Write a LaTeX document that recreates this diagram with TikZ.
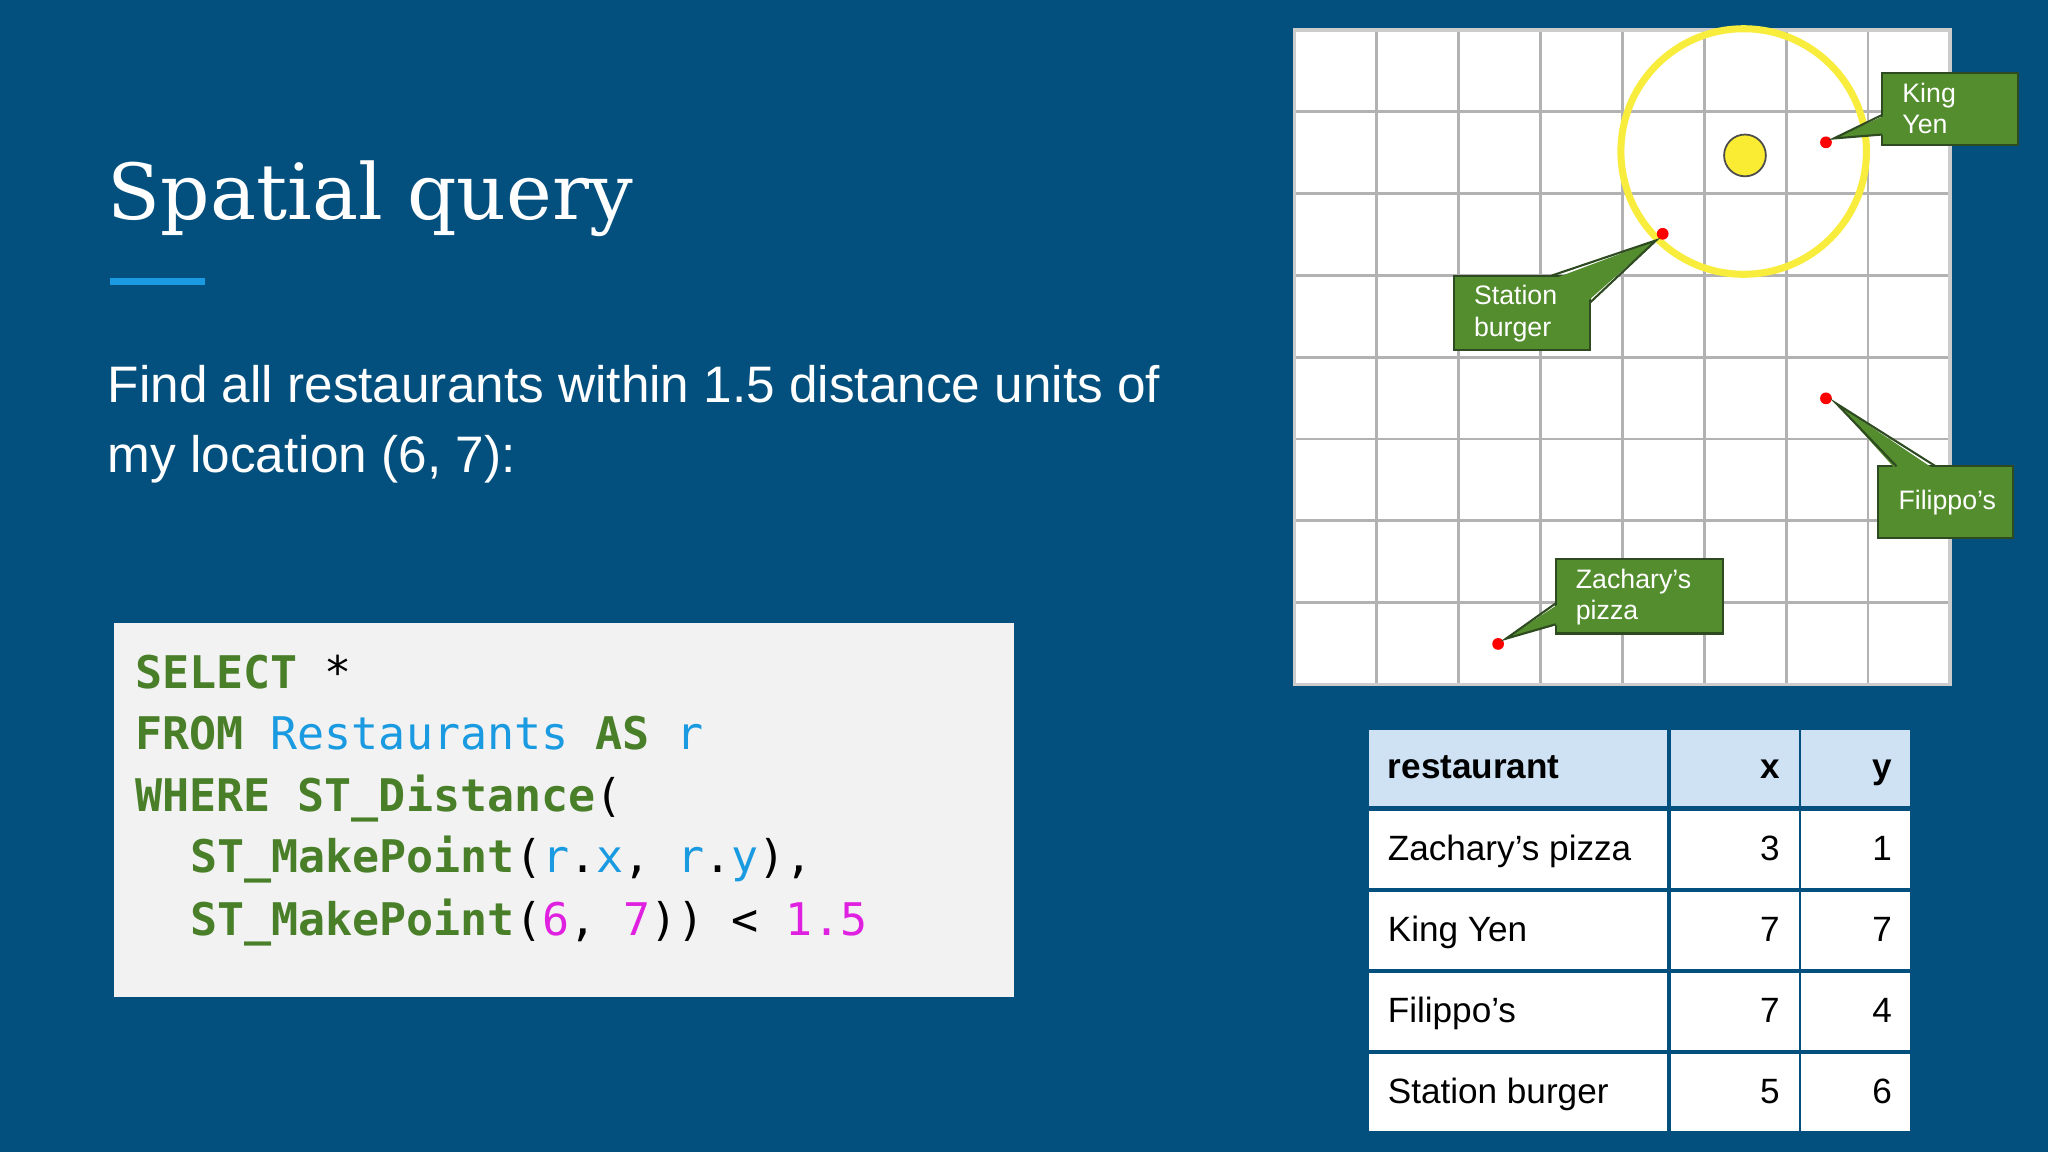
\documentclass[tikz,border=0pt]{standalone}
\usepackage{fontspec}
\setmainfont{Liberation Sans}
\newfontfamily\titlefont{DejaVu Serif}
\setmonofont{DejaVu Sans Mono}
\begin{document}
\begin{tikzpicture}[x=0.013061cm,y=-0.013061cm]
\definecolor{bg}{HTML}{03507E}
\definecolor{accent}{HTML}{1A9AE0}
\definecolor{kw}{HTML}{4A7F2A}
\definecolor{idc}{HTML}{1A9AE0}
\definecolor{num}{HTML}{E020E0}
\definecolor{callg}{HTML}{548D2E}
\definecolor{callo}{HTML}{2E4A20}
\definecolor{hdr}{HTML}{CFE2F3}
\tikzset{
 txt/.style={anchor=base west,inner sep=0,text=white},
 codeln/.style={anchor=base west,inner sep=0,font=\ttfamily\fontsize{12.8}{15}\selectfont},
 callbox/.style={fill=callg,draw=callo,line width=0.6pt},
 calltxt/.style={anchor=north west,inner sep=0,text=white,align=left,font=\fontsize{7.6}{9}\selectfont},
 cell/.style={fill=white,draw=none},
 celltxt/.style={anchor=base west,inner sep=0,font=\fontsize{10}{12}\selectfont},
 celltxtr/.style={anchor=base east,inner sep=0,font=\fontsize{10}{12}\selectfont},
}
\fill[bg] (0,0) rectangle (1568,882);
\useasboundingbox (0,0) rectangle (1568,882);
% title
\node[txt,font=\titlefont\fontsize{22}{26}\selectfont] (title) at (82,168) {Spatial query};
\fill[accent] (84,213) rectangle (157,218);
\node[txt,font=\fontsize{14.6}{17}\selectfont] (l1) at (82,308) {Find all restaurants within 1.5 distance units of};
\node[txt,font=\fontsize{14.6}{17}\selectfont] (l2) at (82,362) {my location (6, 7):};
% code
\fill[white!95!black] (87,477) rectangle (776,763);
\node[codeln] (c1) at (103,527) {\textcolor{kw}{\bfseries SELECT} *};
\node[codeln] (c2) at (103,574) {\textcolor{kw}{\bfseries FROM} \textcolor{idc}{Restaurants} \textcolor{kw}{\bfseries AS} \textcolor{idc}{r}};
\node[codeln] (c3) at (103,621) {\textcolor{kw}{\bfseries WHERE ST\_Distance}(};
\node[codeln] (c4) at (145,668) {\textcolor{kw}{\bfseries ST\_MakePoint}(\textcolor{idc}{r}.\textcolor{idc}{x}, \textcolor{idc}{r}.\textcolor{idc}{y}),};
\node[codeln] (c5) at (145,716) {\textcolor{kw}{\bfseries ST\_MakePoint}(\textcolor{num}{6}, \textcolor{num}{7})) < \textcolor{num}{1.5}};
% grid
\fill[white] (991,23) rectangle (1493,524);
\foreach \i in {0,...,8}{
 \draw[gray!60,line width=0.8pt] ({991+\i*62.75},23) -- ({991+\i*62.75},524);
 \draw[gray!60,line width=0.8pt] (991,{23+\i*62.625}) -- (1493,{23+\i*62.625});
}
\draw[gray!40,line width=1pt] (991,23) rectangle (1493,524);
% circle
\draw[line width=2pt,color={rgb,255:red,248;green,236;blue,60}] (1335,116) circle (94);
\filldraw[fill={rgb,255:red,250;green,236;blue,50},draw=black!70,line width=0.5pt] (1336,119) circle (16);
% points
\coordinate (pk) at (1398,109);
\coordinate (ps) at (1273,179);
\coordinate (pf) at (1398,305);
\coordinate (pz) at (1147,493);
\foreach \p in {pk,ps,pf,pz} \fill[red] (\p) circle (4.5);
% callouts
\filldraw[callbox] (1441,56) rectangle (1545,111);
\fill[callg] (1444,88) -- (1404,106) -- (1444,103) -- cycle;
\draw[callo,line width=0.6pt] (1441,88) -- (1404,106) -- (1441,103);
\node[calltxt] (tk) at (1456,63) {King\\Yen};
\filldraw[callbox] (1113,211) rectangle (1217,268);
\fill[callg] (1188,214) -- (1268,184) -- (1214,232) -- (1214,214) -- cycle;
\draw[callo,line width=0.6pt] (1188,211) -- (1268,184) -- (1217,232);
\node[calltxt] (ts) at (1128,218) {Station\\burger};
\filldraw[callbox] (1438,357) rectangle (1541,412);
\fill[callg] (1452,360) -- (1406,309) -- (1482,360) -- cycle;
\draw[callo,line width=0.6pt] (1452,357) -- (1406,309) -- (1482,357);
\node[calltxt,anchor=west] (tf) at (1453,385) {Filippo’s};
\filldraw[callbox] (1191,428) rectangle (1319,485);
\fill[callg] (1194,462) -- (1153,489) -- (1194,478) -- cycle;
\draw[callo,line width=0.6pt] (1191,462) -- (1153,489) -- (1191,478);
\node[calltxt] (tz) at (1206,435) {Zachary’s\\pizza};
% table
\fill[hdr] (1048,559) rectangle (1276,617);
\fill[hdr] (1279,559) rectangle (1377,617);
\fill[hdr] (1379,559) rectangle (1462,617);
\foreach \y in {621,683,745,807}{
 \fill[cell] (1048,\y) rectangle (1276,\y+59);
 \fill[cell] (1279,\y) rectangle (1377,\y+59);
 \fill[cell] (1379,\y) rectangle (1462,\y+59);
}
\node[celltxt] (h1) at (1062,596) {\bfseries restaurant};
\node[celltxtr] (h2) at (1363,596) {\bfseries x};
\node[celltxtr] (h3) at (1449,596) {\bfseries y};
\node[celltxt] (r1) at (1062,659) {Zachary’s pizza};
\node[celltxtr] (r1x) at (1363,659) {3};
\node[celltxtr] (r1y) at (1449,659) {1};
\node[celltxt] (r2) at (1062,721) {King Yen};
\node[celltxtr] (r2x) at (1363,721) {7};
\node[celltxtr] (r2y) at (1449,721) {7};
\node[celltxt] (r3) at (1062,783) {Filippo’s};
\node[celltxtr] (r3x) at (1363,783) {7};
\node[celltxtr] (r3y) at (1449,783) {4};
\node[celltxt] (r4) at (1062,845) {Station burger};
\node[celltxtr] (r4x) at (1363,845) {5};
\node[celltxtr] (r4y) at (1449,845) {6};
\end{tikzpicture}
\end{document}
